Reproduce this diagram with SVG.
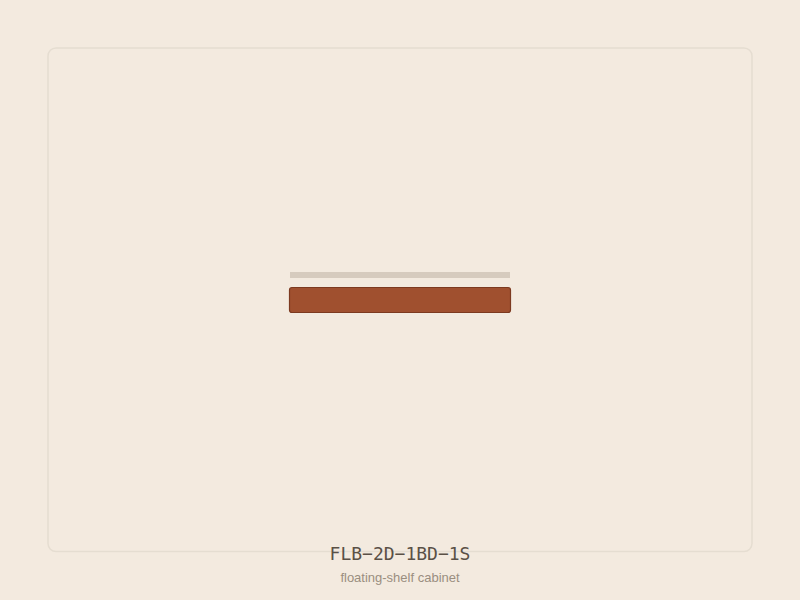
<svg xmlns="http://www.w3.org/2000/svg" width="800" height="600" viewBox="0 0 800 600">
<style>
.frame{fill:none;stroke:#e5ddd1;stroke-width:1.5}
.title{font-family:"DejaVu Sans Mono","Liberation Mono",monospace;font-size:18px;fill:#5a5046;text-anchor:middle}
.sub{font-family:"Liberation Sans",Arial,sans-serif;font-size:13px;fill:#9a8e80;text-anchor:middle}
</style>
<rect width="800" height="600" fill="#f3eadf"/>
<rect class="frame" x="48" y="48" width="704" height="503.5" rx="8"/>
<g id="top-shelf"><rect x="290" y="272" width="220" height="6" fill="#d6cbbe"/></g>
<g id="cabinet"><rect x="289.5" y="287.5" width="221" height="25" rx="2.5" fill="#a0502f" stroke="#7c3a20" stroke-width="1.2"/></g>
<g id="labels">
<text class="title" x="400" y="560">FLB−2D−1BD−1S</text>
<text class="sub" x="400" y="582">floating-shelf cabinet</text>
</g>
</svg>
